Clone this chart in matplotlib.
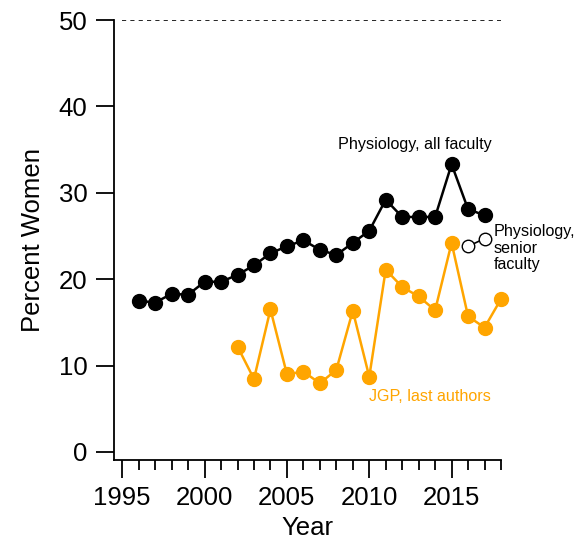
import matplotlib
matplotlib.use("Agg")
import matplotlib.pyplot as plt
from matplotlib.ticker import MultipleLocator

plt.rcParams['font.family'] = ['Liberation Sans', 'DejaVu Sans']

years_all = list(range(1996, 2018))
all_faculty = [17.5, 17.3, 18.3, 18.2, 19.7, 19.7, 20.5, 21.6, 23.0, 23.8, 24.5,
               23.4, 22.8, 24.2, 25.6, 29.2, 27.2, 27.2, 27.2, 33.3, 28.1, 27.4]
years_senior = [2016, 2017]
senior_faculty = [23.8, 24.7]
years_jgp = list(range(2002, 2019))
jgp_last = [12.2, 8.45, 16.5, 9.0, 9.3, 7.95, 9.5, 16.35, 8.7, 21.1, 19.1,
            18.0, 16.4, 24.2, 15.7, 14.4, 17.7]
x_ticks = [1995, 2000, 2005, 2010, 2015]
y_ticks = [0, 10, 20, 30, 40, 50]

orange = '#FFA500'

fig = plt.figure(figsize=(5.82, 5.46), dpi=100)
ax = fig.add_axes([114/582, 1-460/546, (501-114)/582, (460-20)/546])
ax.set_xlim(1994.5, 2018)
ax.set_ylim(-0.93, 50)

ax.axhline(50, color='black', lw=1.2, ls=(0, (2.5, 2.5)), xmin=0.02, xmax=1.0)

ax.plot(years_all, all_faculty, '-o', color='black', lw=1.8, ms=10, clip_on=False, zorder=3)
ax.plot(years_jgp, jgp_last, '-o', color=orange, lw=1.8, ms=10, clip_on=False, zorder=3)
ax.plot(years_senior, senior_faculty, '-o', color='black', mfc='white', mec='black',
        lw=1.2, ms=9, mew=1.0, clip_on=False, zorder=4)

ax.text(2012.8, 34.7, 'Physiology, all faculty', fontsize=11.6, ha='center', va='bottom',
        color='black', fontweight='medium')
ax.text(2017.55, 26.4, 'Physiology,\nsenior\nfaculty', fontsize=11.6, ha='left', va='top',
        color='black', linespacing=1.15, clip_on=False, fontweight='medium')
ax.text(2013.7, 6.4, 'JGP, last authors', fontsize=11.6, ha='center', va='center',
        color=orange, fontweight='medium')

for s in ['top', 'right']:
    ax.spines[s].set_visible(False)
for s in ['left', 'bottom']:
    ax.spines[s].set_linewidth(1.3)

ax.set_xticks(x_ticks)
ax.xaxis.set_minor_locator(MultipleLocator(1))
ax.set_yticks(y_ticks)
ax.tick_params(axis='both', which='major', length=13, width=1.3, labelsize=18.5, pad=6)
ax.tick_params(axis='x', which='minor', length=7, width=1.3)

ax.set_xlabel('Year', fontsize=18.5, labelpad=4)
ax.set_ylabel('Percent Women', fontsize=18.5, labelpad=10)

fig.savefig('out.png', dpi=100)
